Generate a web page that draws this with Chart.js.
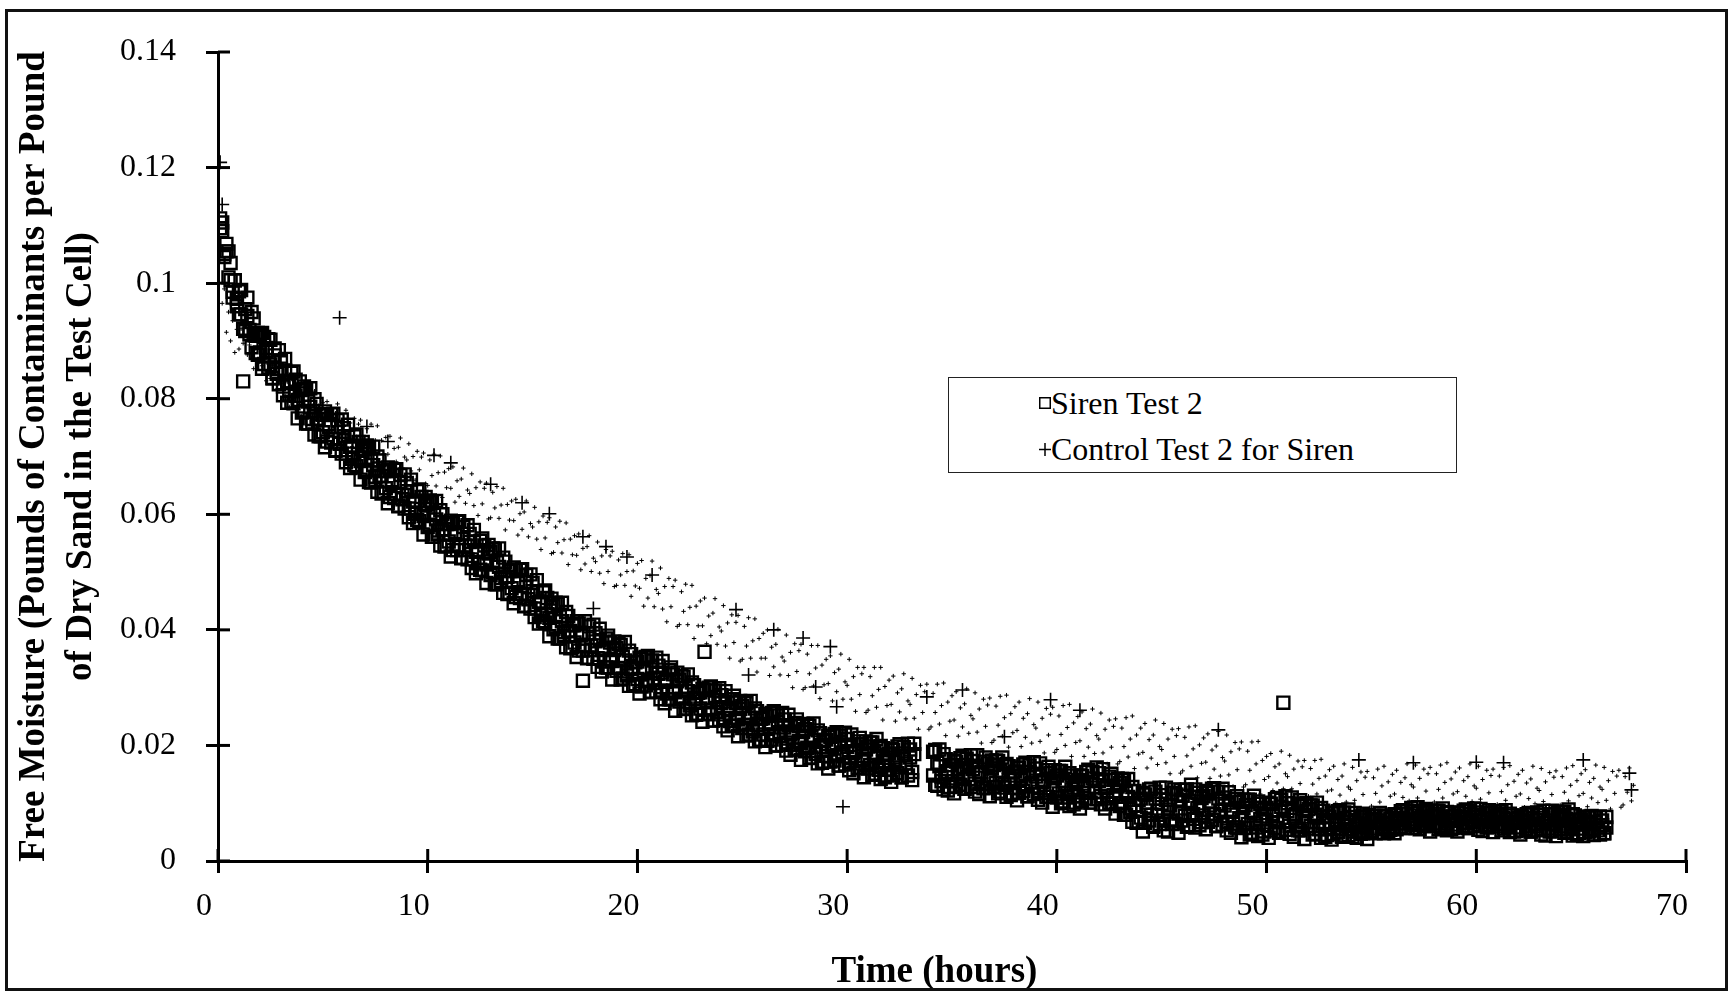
<!DOCTYPE html>
<html>
<head>
<meta charset="utf-8">
<script src="https://cdn.jsdelivr.net/npm/chart.js@4.4.0/dist/chart.umd.min.js"></script>
<style>
html,body{margin:0;padding:0;background:#fff;}
#wrap{position:relative;width:1733px;height:993px;overflow:hidden;background:#fff;}
#c{position:absolute;left:0;top:0;}
#frame{position:absolute;left:5px;top:9px;width:1723px;height:982px;border:3px solid #111;box-sizing:border-box;pointer-events:none;}
#legend{position:absolute;left:948px;top:377px;width:509px;height:96px;border:1.5px solid #222;box-sizing:border-box;background:#fff;font-family:"Liberation Serif","Times New Roman",serif;font-size:32px;color:#000;}
#legend .row{position:absolute;left:90px;height:34px;line-height:34px;display:flex;align-items:center;white-space:nowrap;}
#legend svg{display:block;flex:none;}
</style>
</head>
<body>
<div id="wrap">
<canvas id="c" width="1733" height="993"></canvas>
<div id="frame"></div>
<div id="legend">
  <div class="row" style="top:8px"><svg width="12" height="12" viewBox="0 0 12 12"><rect x="0.75" y="0.75" width="10.5" height="10.5" fill="#fff" stroke="#000" stroke-width="1.5"/></svg><span id="l1"></span></div>
  <div class="row" style="top:54px"><svg width="12" height="13" viewBox="0 0 12 13"><path d="M0 6.5H12M6 0V13" stroke="#000" stroke-width="1.5"/></svg><span id="l2"></span></div>
</div>
</div>
<script>
// ---- data ----
const seriesNames = ['Siren Test 2', 'Control Test 2 for Siren'];
const xTicks = [0, 10, 20, 30, 40, 50, 60, 70];
const yTicks = [0, 0.02, 0.04, 0.06, 0.08, 0.1, 0.12, 0.14];

const hours = [
0.1,0.2,0.3,0.4,0.5,0.6,0.7,0.8,0.9,
1,1.1,1.2,1.3,1.4,1.5,1.6,1.7,1.8,1.9,
2,2.1,2.2,2.3,2.4,2.5,2.6,2.7,2.8,2.9,
3,3.1,3.2,3.3,3.4,3.5,3.6,3.7,3.8,3.9,
4,4.1,4.2,4.3,4.4,4.5,4.6,4.7,4.8,4.9,
5,5.1,5.2,5.3,5.4,5.5,5.6,5.7,5.8,5.9,
6,6.1,6.2,6.3,6.4,6.5,6.6,6.7,6.8,6.9,
7,7.1,7.2,7.3,7.4,7.5,7.6,7.7,7.8,7.9,
8,8.1,8.2,8.3,8.4,8.5,8.6,8.7,8.8,8.9,
9,9.1,9.2,9.3,9.4,9.5,9.6,9.7,9.8,9.9,
10,10.1,10.2,10.3,10.4,10.5,10.6,10.7,10.8,10.9,
11,11.1,11.2,11.3,11.4,11.5,11.6,11.7,11.8,11.9,
12,12.1,12.2,12.3,12.4,12.5,12.6,12.7,12.8,12.9,
13,13.1,13.2,13.3,13.4,13.5,13.6,13.7,13.8,13.9,
14,14.1,14.2,14.3,14.4,14.5,14.6,14.7,14.8,14.9,
15,15.1,15.2,15.3,15.4,15.5,15.6,15.7,15.8,15.9,
16,16.1,16.2,16.3,16.4,16.5,16.6,16.7,16.8,16.9,
17,17.1,17.2,17.3,17.4,17.5,17.6,17.7,17.8,17.9,
18,18.1,18.2,18.3,18.4,18.5,18.6,18.7,18.8,18.9,
19,19.1,19.2,19.3,19.4,19.5,19.6,19.7,19.8,19.9,
20,20.1,20.2,20.3,20.4,20.5,20.6,20.7,20.8,20.9,
21,21.1,21.2,21.3,21.4,21.5,21.6,21.7,21.8,21.9,
22,22.1,22.2,22.3,22.4,22.5,22.6,22.7,22.8,22.9,
23,23.1,23.2,23.3,23.4,23.5,23.6,23.7,23.8,23.9,
24,24.1,24.2,24.3,24.4,24.5,24.6,24.7,24.8,24.9,
25,25.1,25.2,25.3,25.4,25.5,25.6,25.7,25.8,25.9,
26,26.1,26.2,26.3,26.4,26.5,26.6,26.7,26.8,26.9,
27,27.1,27.2,27.3,27.4,27.5,27.6,27.7,27.8,27.9,
28,28.1,28.2,28.3,28.4,28.5,28.6,28.7,28.8,28.9,
29,29.1,29.2,29.3,29.4,29.5,29.6,29.7,29.8,29.9,
30,30.1,30.2,30.3,30.4,30.5,30.6,30.7,30.8,30.9,
31,31.1,31.2,31.3,31.4,31.5,31.6,31.7,31.8,31.9,
32,32.1,32.2,32.3,32.4,32.5,32.6,32.7,32.8,32.9,
33,33.1,33.2,33.3,33.4,33.5,33.6,33.7,33.8,33.9,
34,34.1,34.2,34.3,34.4,34.5,34.6,34.7,34.8,34.9,
35,35.1,35.2,35.3,35.4,35.5,35.6,35.7,35.8,35.9,
36,36.1,36.2,36.3,36.4,36.5,36.6,36.7,36.8,36.9,
37,37.1,37.2,37.3,37.4,37.5,37.6,37.7,37.8,37.9,
38,38.1,38.2,38.3,38.4,38.5,38.6,38.7,38.8,38.9,
39,39.1,39.2,39.3,39.4,39.5,39.6,39.7,39.8,39.9,
40,40.1,40.2,40.3,40.4,40.5,40.6,40.7,40.8,40.9,
41,41.1,41.2,41.3,41.4,41.5,41.6,41.7,41.8,41.9,
42,42.1,42.2,42.3,42.4,42.5,42.6,42.7,42.8,42.9,
43,43.1,43.2,43.3,43.4,43.5,43.6,43.7,43.8,43.9,
44,44.1,44.2,44.3,44.4,44.5,44.6,44.7,44.8,44.9,
45,45.1,45.2,45.3,45.4,45.5,45.6,45.7,45.8,45.9,
46,46.1,46.2,46.3,46.4,46.5,46.6,46.7,46.8,46.9,
47,47.1,47.2,47.3,47.4,47.5,47.6,47.7,47.8,47.9,
48,48.1,48.2,48.3,48.4,48.5,48.6,48.7,48.8,48.9,
49,49.1,49.2,49.3,49.4,49.5,49.6,49.7,49.8,49.9,
50,50.1,50.2,50.3,50.4,50.5,50.6,50.7,50.8,50.9,
51,51.1,51.2,51.3,51.4,51.5,51.6,51.7,51.8,51.9,
52,52.1,52.2,52.3,52.4,52.5,52.6,52.7,52.8,52.9,
53,53.1,53.2,53.3,53.4,53.5,53.6,53.7,53.8,53.9,
54,54.1,54.2,54.3,54.4,54.5,54.6,54.7,54.8,54.9,
55,55.1,55.2,55.3,55.4,55.5,55.6,55.7,55.8,55.9,
56,56.1,56.2,56.3,56.4,56.5,56.6,56.7,56.8,56.9,
57,57.1,57.2,57.3,57.4,57.5,57.6,57.7,57.8,57.9,
58,58.1,58.2,58.3,58.4,58.5,58.6,58.7,58.8,58.9,
59,59.1,59.2,59.3,59.4,59.5,59.6,59.7,59.8,59.9,
60,60.1,60.2,60.3,60.4,60.5,60.6,60.7,60.8,60.9,
61,61.1,61.2,61.3,61.4,61.5,61.6,61.7,61.8,61.9,
62,62.1,62.2,62.3,62.4,62.5,62.6,62.7,62.8,62.9,
63,63.1,63.2,63.3,63.4,63.5,63.6,63.7,63.8,63.9,
64,64.1,64.2,64.3,64.4,64.5,64.6,64.7,64.8,64.9,
65,65.1,65.2,65.3,65.4,65.5,65.6,65.7,65.8,65.9,
66,66.1,66.2,66.3,66.4,66.5,66.6,66.7,66.8,66.9,
67,67.1,67.2,67.3,67.4,67.5
];

// Siren readings, first pass through the band
const sirenValues = [
.1112,.1090,.1050,.1068,.1010,.1035,.0985,.1005,.0960,
.0986,.0946,.0830,.0917,.0943,.0912,.0950,.0913,.0879,.0914,
.0880,.0914,.0860,.0888,.0903,.0859,.0835,.0875,.0851,.0825,
.0852,.0806,.0849,.0830,.0807,.0845,.0792,.0833,.0798,.0830,
.0816,.0779,.0817,.0757,.0786,.0758,.0799,.0765,.0735,.0773,
.0742,.0778,.0726,.0756,.0773,.0731,.0710,.0751,.0730,.0705,
.0735,.0690,.0735,.0717,.0696,.0735,.0683,.0725,.0692,.0725,
.0713,.0677,.0716,.0655,.0685,.0658,.0700,.0667,.0636,.0675,
.0645,.0681,.0630,.0659,.0677,.0635,.0614,.0656,.0634,.0610,
.0640,.0595,.0640,.0622,.0601,.0640,.0588,.0630,.0597,.0630,
.0618,.0582,.0621,.0561,.0591,.0565,.0607,.0574,.0544,.0583,
.0553,.0589,.0538,.0569,.0587,.0545,.0524,.0566,.0546,.0522,
.0552,.0507,.0553,.0535,.0515,.0554,.0503,.0546,.0513,.0547,
.0535,.0499,.0539,.0479,.0509,.0483,.0525,.0492,.0462,.0502,
.0472,.0508,.0457,.0486,.0504,.0462,.0441,.0483,.0461,.0437,
.0467,.0422,.0466,.0448,.0426,.0465,.0413,.0455,.0421,.0454,
.0441,.0405,.0445,.0385,.0415,.0389,.0431,.0398,.0368,.0408,
.0378,.0415,.0364,.0395,.0312,.0372,.0351,.0394,.0373,.0350,
.0380,.0336,.0382,.0365,.0345,.0385,.0335,.0378,.0346,.0380,
.0369,.0334,.0374,.0316,.0347,.0321,.0364,.0332,.0304,.0344,
.0315,.0352,.0302,.0334,.0353,.0312,.0292,.0335,.0316,.0293,
.0324,.0280,.0326,.0310,.0290,.0330,.0280,.0323,.0292,.0326,
.0314,.0281,.0319,.0264,.0294,.0269,.0309,.0280,.0253,.0291,
.0264,.0298,.0362,.0281,.0300,.0262,.0243,.0284,.0265,.0244,
.0273,.0233,.0276,.0261,.0242,.0280,.0234,.0274,.0245,.0277,
.0268,.0236,.0273,.0219,.0248,.0224,.0264,.0235,.0208,.0246,
.0219,.0254,.0208,.0237,.0256,.0219,.0200,.0241,.0223,.0201,
.0231,.0191,.0235,.0219,.0201,.0239,.0193,.0234,.0204,.0237,
.0228,.0196,.0234,.0179,.0209,.0185,.0226,.0197,.0170,.0208,
.0182,.0217,.0172,.0201,.0220,.0183,.0165,.0206,.0188,.0167,
.0197,.0157,.0201,.0187,.0169,.0207,.0161,.0202,.0174,.0207,
.0198,.0166,.0205,.0151,.0182,.0158,.0199,.0171,.0145,.0184,
.0158,.0194,.0149,.0179,.0198,.0162,.0145,.0186,.0169,.0148,
.0179,.0140,.0185,null,null,null,null,null,null,null,
null,.0148,.0192,.0130,.0164,.0138,.0185,.0152,.0122,.0166,
.0138,.0174,.0129,.0159,.0178,.0142,.0125,.0166,.0149,.0128,
.0159,.0120,.0165,.0150,.0133,.0172,.0127,.0169,.0140,.0174,
.0166,.0135,.0173,.0120,.0150,.0127,.0168,.0140,.0114,.0153,
.0127,.0162,.0118,.0147,.0167,.0130,.0112,.0154,.0136,.0116,
.0146,.0106,.0151,.0136,.0118,.0157,.0111,.0152,.0123,.0157,
.0148,.0117,.0156,.0103,.0133,.0110,.0152,.0124,.0098,.0137,
.0112,.0148,.0104,.0134,.0154,.0118,.0101,.0143,.0127,.0107,
.0138,.0098,.0141,.0126,.0108,.0146,.0099,.0140,.0111,.0143,
.0135,.0100,.0140,.0080,.0111,.0085,.0128,.0096,.0066,.0106,
.0075,.0118,.0066,.0101,.0124,.0080,.0059,.0108,.0087,.0064,
.0099,.0053,.0106,.0089,.0070,.0118,.0065,.0115,.0082,.0123,
.0113,.0078,.0124,.0062,.0099,.0073,.0124,.0092,.0062,.0109,
.0079,.0121,.0068,.0103,.0125,.0081,.0060,.0108,.0087,.0063,
.0096,.0053,.0101,.0085,.0065,.0107,.0058,.0102,.0071,.0106,
.0097,.0064,.0106,.0049,.0082,.0058,.0103,.0073,.0046,.0089,
.0062,.0101,.0053,.0086,.0107,.0067,.0049,.0094,.0274,.0054,
.0086,.0047,.0092,.0077,.0060,.0099,.0053,.0095,.0067,.0100,
.0090,.0061,.0096,.0047,.0075,.0055,.0092,.0066,.0042,.0077,
.0055,.0084,.0047,.0071,.0086,.0056,.0043,.0074,.0061,.0045,
.0067,.0042,.0071,.0062,.0051,.0077,.0048,.0075,.0058,.0080,
.0073,.0056,.0078,.0049,.0066,.0055,.0079,.0063,.0051,.0073,
.0059,.0081,.0055,.0074,.0086,.0065,.0057,.0082,.0072,.0062,
.0079,.0057,.0083,.0074,.0064,.0086,.0061,.0084,.0068,.0087,
.0082,.0065,.0087,.0057,.0074,.0061,.0085,.0069,.0055,.0077,
.0063,.0084,.0058,.0076,.0087,.0066,.0057,.0081,.0071,.0060,
.0076,.0054,.0080,.0072,.0062,.0084,.0059,.0083,.0067,.0086,
.0081,.0064,.0086,.0056,.0072,.0059,.0082,.0066,.0051,.0072,
.0058,.0079,.0053,.0070,.0081,.0060,.0051,.0074,.0064,.0053,
.0071,.0046,.0075,.0066,.0056,.0081,.0052,.0081,.0063,.0085,
.0080,.0060,.0085,.0051,.0070,.0055,.0081,.0063,.0047,.0071,
.0056,.0076,.0050,.0067,.0077,.0055,.0045,.0068,.0058,.0046,
.0062,.0048,.0058
];

// Siren readings, second pass through the same band (same hours)
const sirenValues2 = [
.1095,.1105,.1045,.1055,.1055,.1005,.0975,.1005,.0973,
.0946,.0988,.0921,.0955,.0975,.0919,.0889,.0939,.0909,.0876,
.0910,.0852,.0907,.0883,.0854,.0902,.0836,.0887,.0843,.0884,
.0866,.0821,.0869,.0793,.0830,.0795,.0847,.0805,.0766,.0815,
.0776,.0821,.0757,.0795,.0818,.0765,.0738,.0791,.0765,.0735,
.0772,.0716,.0773,.0751,.0724,.0774,.0711,.0763,.0722,.0764,
.0749,.0705,.0755,.0680,.0719,.0685,.0738,.0697,.0660,.0710,
.0673,.0719,.0656,.0693,.0717,.0665,.0639,.0693,.0666,.0637,
.0675,.0619,.0677,.0654,.0628,.0678,.0615,.0668,.0626,.0669,
.0654,.0610,.0660,.0585,.0624,.0590,.0643,.0602,.0565,.0615,
.0578,.0624,.0561,.0599,.0623,.0572,.0546,.0600,.0574,.0545,
.0583,.0527,.0585,.0564,.0538,.0588,.0525,.0578,.0538,.0581,
.0566,.0522,.0573,.0498,.0538,.0504,.0558,.0518,.0481,.0532,
.0495,.0541,.0479,.0517,.0541,.0490,.0464,.0518,.0492,.0464,
.0502,.0446,.0504,.0481,.0455,.0505,.0442,.0495,.0453,.0496,
.0481,.0437,.0486,.0411,.0449,.0415,.0468,.0427,.0389,.0439,
.0401,.0447,.0385,.0423,.0447,.0396,.0370,.0424,.0398,.0370,
.0408,.0353,.0411,.0390,.0364,.0415,.0352,.0406,.0365,.0409,
.0394,.0351,.0402,.0328,.0368,.0335,.0390,.0350,.0314,.0365,
.0329,.0376,.0314,.0354,.0379,.0328,.0303,.0358,.0334,.0306,
.0345,.0290,.0349,.0329,.0304,.0355,.0293,.0347,.0308,.0352,
.0338,.0295,.0346,.0273,.0313,.0280,.0335,.0295,.0260,.0311,
.0276,.0320,.0263,.0300,.0323,.0275,.0252,.0304,.0281,.0255,
.0292,.0241,.0296,.0277,.0254,.0302,.0243,.0295,.0258,.0299,
.0287,.0247,.0294,.0226,.0263,.0234,.0286,.0248,.0216,.0263,
.0230,.0275,.0217,.0255,.0277,.0230,.0207,.0259,.0236,.0210,
.0247,.0197,.0251,.0233,.0210,.0259,.0200,.0252,.0216,.0256,
.0245,.0205,.0253,.0184,.0222,.0193,.0245,.0208,.0175,.0223,
.0190,.0235,.0178,.0215,.0238,.0191,.0169,.0221,.0198,.0172,
.0210,.0160,.0215,.0197,.0174,.0223,.0165,.0217,.0181,.0222,
.0211,.0171,.0219,.0152,.0190,.0161,.0213,.0176,.0145,.0193,
.0160,.0205,.0149,.0187,.0211,.0164,.0142,.0195,.0173,.0148,
.0186,.0137,.0192,.0175,.0152,.0202,.0145,.0197,.0162,.0203,
.0193,.0154,.0203,null,null,null,null,null,null,null,
null,.0189,.0132,.0170,.0193,.0146,.0124,.0176,.0154,.0128,
.0166,.0117,.0172,.0155,.0132,.0182,.0125,.0177,.0142,.0183,
.0173,.0134,.0183,.0116,.0154,.0126,.0179,.0143,.0112,.0160,
.0128,.0174,.0117,.0156,.0179,.0133,.0111,.0164,.0142,.0117,
.0155,.0105,.0161,.0143,.0121,.0170,.0112,.0165,.0129,.0171,
.0160,.0120,.0169,.0101,.0139,.0111,.0163,.0126,.0094,.0143,
.0110,.0156,.0100,.0139,.0163,.0117,.0095,.0148,.0127,.0101,
.0140,.0091,.0147,.0130,.0108,.0158,.0101,.0154,.0120,.0162,
.0152,.0112,.0159,.0091,.0129,.0100,.0151,.0114,.0082,.0129,
.0095,.0142,.0080,.0118,.0142,.0092,.0068,.0121,.0096,.0068,
.0108,.0051,.0115,.0094,.0070,.0125,.0061,.0120,.0080,.0127,
.0114,.0070,.0127,.0051,.0096,.0064,.0124,.0085,.0049,.0106,
.0070,.0123,.0059,.0104,.0132,.0081,.0058,.0118,.0095,.0067,
.0112,.0055,.0118,.0096,.0071,.0126,.0061,.0120,.0078,.0125,
.0110,.0068,.0119,.0049,.0088,.0058,.0112,.0074,.0041,.0092,
.0057,.0106,.0046,.0087,.0113,.0065,.0043,.0099,.0077,.0051,
.0092,.0040,.0099,.0081,.0057,.0109,.0050,.0106,.0069,.0112,
.0100,.0061,.0110,.0042,.0081,.0053,.0105,.0069,.0038,.0086,
.0056,.0096,.0046,.0079,.0101,.0060,.0040,.0087,.0067,.0045,
.0077,.0037,.0082,.0067,.0050,.0088,.0042,.0084,.0055,.0089,
.0076,.0051,.0083,.0040,.0065,.0047,.0082,.0059,.0038,.0071,
.0052,.0078,.0048,.0070,.0083,.0059,.0048,.0077,.0066,.0054,
.0075,.0048,.0080,.0071,.0059,.0088,.0057,.0087,.0068,.0092,
.0087,.0065,.0093,.0055,.0076,.0060,.0090,.0070,.0051,.0079,
.0061,.0087,.0055,.0077,.0091,.0065,.0053,.0083,.0071,.0057,
.0079,.0051,.0083,.0073,.0061,.0089,.0057,.0087,.0067,.0091,
.0084,.0062,.0090,.0052,.0074,.0058,.0088,.0068,.0050,.0078,
.0060,.0086,.0053,.0075,.0088,.0062,.0050,.0079,.0067,.0052,
.0074,.0046,.0077,.0067,.0055,.0083,.0051,.0081,.0060,.0084,
.0080,.0055,.0087,.0044,.0070,.0051,.0087,.0064,.0043,.0076,
.0055,.0085,.0049,.0073,.0089,.0059,.0044,.0079,.0064,.0048,
.0072,.0043,.0075,.0064,.0051,.0078,.0046,.0075,.0053,.0077,
.0070,.0048,.0076
];

const controlValues = [
.1040,.0965,.0990,.0915,.0950,.0900,.0935,.0880,.0920,
.0886,.0921,.0896,.0925,.0876,.0893,.0916,.0852,.0887,.0862,
.0888,.0857,.0886,.0831,.0860,.0835,.0858,.0872,.0817,.0834,
.0827,.0854,.0805,.0829,.0786,.0834,.0800,.0821,.0826,.0772,
.0771,.0808,.0785,.0816,.0769,.0788,.0813,.0751,.0788,.0765,
.0793,.0764,.0795,.0742,.0773,.0750,.0775,.0791,.0738,.0757,
.0752,.0780,.0733,.0758,.0717,.0766,.0734,.0756,.0763,.0710,
.0711,.0748,.0725,.0756,.0709,.0728,.0753,.0691,.0728,.0705,
.0733,.0704,.0735,.0683,.0714,.0691,.0716,.0732,.0680,.0699,
.0694,.0722,.0675,.0700,.0659,.0709,.0677,.0699,.0706,.0653,
.0650,.0694,.0667,.0704,.0649,.0672,.0701,.0629,.0673,.0646,
.0679,.0645,.0682,.0621,.0658,.0631,.0661,.0680,.0619,.0642,
.0636,.0670,.0615,.0646,.0598,.0656,.0618,.0645,.0654,.0592,
.0594,.0638,.0611,.0648,.0593,.0616,.0645,.0573,.0617,.0590,
.0623,.0589,.0626,.0564,.0601,.0574,.0604,.0623,.0561,.0584,
.0578,.0612,.0557,.0587,.0539,.0597,.0559,.0586,.0594,.0532,
.0534,.0578,.0551,.0588,.0533,.0556,.0585,.0513,.0557,.0530,
.0563,.0529,.0566,.0504,.0541,.0514,.0544,.0563,.0501,.0524,
.0518,.0552,.0498,.0528,.0480,.0539,.0501,.0528,.0536,.0475,
.0477,.0521,.0495,.0532,.0477,.0501,.0530,.0458,.0502,.0476,
.0515,.0472,.0520,.0441,.0489,.0455,.0494,.0519,.0440,.0470,
.0463,.0507,.0436,.0475,.0414,.0489,.0440,.0475,.0486,.0406,
.0409,.0466,.0432,.0479,.0409,.0439,.0477,.0385,.0441,.0407,
.0450,.0407,.0455,.0376,.0424,.0390,.0429,.0454,.0375,.0405,
.0398,.0442,.0372,.0412,.0351,.0426,.0378,.0413,.0425,.0346,
.0349,.0406,.0372,.0421,.0351,.0381,.0419,.0327,.0385,.0351,
.0394,.0351,.0400,.0321,.0370,.0336,.0375,.0401,.0322,.0353,
.0346,.0391,.0321,.0361,.0300,.0376,.0328,.0364,.0375,.0297,
.0300,.0358,.0324,.0373,.0303,.0334,.0373,.0281,.0339,.0305,
.0349,.0307,.0355,.0277,.0326,.0293,.0332,.0358,.0280,.0310,
.0304,.0349,.0280,.0319,.0259,.0335,.0288,.0324,.0335,.0257,
.0261,.0319,.0286,.0335,.0266,.0297,.0335,.0244,.0302,.0269,
.0313,.0271,.0320,.0242,.0291,.0258,.0298,.0324,.0246,.0277,
.0271,.0316,.0247,.0288,.0228,.0304,.0257,.0293,.0306,.0228,
.0232,.0290,.0257,.0306,.0237,.0269,.0308,.0217,.0275,.0242,
.0286,.0244,.0293,.0216,.0265,.0232,.0272,.0298,.0221,.0252,
.0246,.0291,.0223,.0263,.0204,.0280,.0233,.0270,.0282,.0205,
.0209,.0268,.0235,.0285,.0216,.0248,.0287,.0197,.0255,.0222,
.0267,.0226,.0275,.0198,.0247,.0214,.0255,.0281,.0204,.0236,
.0230,.0275,.0207,.0247,.0187,.0264,.0218,.0254,.0266,.0188,
.0193,.0251,.0219,.0269,.0200,.0231,.0271,.0181,.0239,.0205,
.0250,.0208,.0258,.0181,.0229,.0197,.0237,.0263,.0186,.0217,
.0211,.0256,.0187,.0228,.0168,.0244,.0197,.0233,.0246,.0168,
.0172,.0230,.0198,.0248,.0180,.0211,.0251,.0160,.0218,.0185,
.0230,.0188,.0238,.0161,.0210,.0178,.0218,.0244,.0167,.0198,
.0193,.0238,.0170,.0211,.0151,.0228,.0181,.0217,.0229,.0152,
.0156,.0214,.0182,.0232,.0164,.0194,.0234,.0144,.0201,.0169,
.0213,.0171,.0220,.0143,.0192,.0159,.0199,.0224,.0147,.0179,
.0173,.0218,.0149,.0189,.0129,.0205,.0158,.0194,.0206,.0128,
.0132,.0190,.0157,.0206,.0137,.0168,.0207,.0116,.0174,.0141,
.0181,.0146,.0186,.0122,.0163,.0135,.0168,.0190,.0125,.0151,
.0146,.0183,.0125,.0159,.0109,.0173,.0134,.0163,.0174,.0109,
.0112,.0160,.0133,.0174,.0116,.0143,.0176,.0099,.0147,.0121,
.0158,.0123,.0164,.0100,.0141,.0114,.0147,.0168,.0102,.0128,
.0124,.0162,.0105,.0139,.0089,.0154,.0115,.0145,.0155,.0091,
.0095,.0144,.0117,.0159,.0102,.0130,.0164,.0088,.0137,.0112,
.0150,.0116,.0157,.0094,.0136,.0110,.0144,.0168,.0104,.0132,
.0128,.0166,.0109,.0143,.0094,.0159,.0121,.0151,.0162,.0098,
.0102,.0151,.0124,.0166,.0109,.0136,.0170,.0093,.0142,.0116,
.0154,.0120,.0161,.0097,.0139,.0112,.0146,.0168,.0103,.0130,
.0126,.0164,.0107,.0141,.0092,.0157,.0118,.0148,.0159,.0094,
.0098,.0147,.0120,.0162,.0105,.0132,.0165,.0089,.0138,.0112,
.0150,.0116,.0157,.0093,.0135,.0108,.0142,.0164,.0099,.0126,
.0122,.0160,.0103,.0137,.0088,.0153,.0115,.0145,.0156,.0093,
.0097,.0146,.0119,.0161,.0104,.0131,.0165,.0090,.0139,.0113,
.0151,.0117,.0158,.0094,.0136,.0109,.0143,.0166,.0101,.0128,
.0124,.0162,.0105,.0139,.0090,.0155,.0117,.0147,.0157,.0093,
.0097,.0146,.0119,.0161,.0104,.0131
];

// control readings whose "+" marker survives clearly in the picture
const controlPlusHours = [0.1,0.2,5.8,7.1,8.1,10.3,11.1,13.0,14.5,15.8,17.4,17.9,18.5,19.5,20.7,24.7,25.3,26.5,27.9,28.5,29.2,29.5,29.8,33.8,35.5,37.5,39.7,41.1,47.7,54.4,57.0,60.0,61.3,65.1,67.3,67.4];
const controlPlusValues = [.1209,.1136,.0940,.0752,.0726,.0702,.0689,.0652,.0620,.0601,.0561,.0437,.0544,.0526,.0495,.0435,.0322,.0400,.0386,.0301,.0371,.0267,.0094,.0284,.0296,.0215,.0279,.0261,.0227,.0175,.0170,.0171,.0170,.0175,.0152,.0123];

// ---- chart ----
const FONT = "'Liberation Serif','Times New Roman',serif";
Chart.defaults.font.family = FONT;
Chart.defaults.color = '#000';

const sirenData = sirenValues.map((v, i) => ({x: hours[i], y: v}))
  .concat(sirenValues2.map((v, i) => ({x: hours[i], y: v})));
const controlData = controlValues.map((v, i) => ({x: hours[i], y: v}))
  .concat(controlPlusHours.map((h, i) => ({x: h, y: controlPlusValues[i]})));
const nDense = controlValues.length;

const crossTicks = {
  id: 'crossTicks',
  afterDatasetsDraw(chart) {
    const {ctx, chartArea} = chart;
    const xs = chart.scales.x, ys = chart.scales.y;
    ctx.save();
    ctx.strokeStyle = '#000';
    ctx.lineWidth = 3;
    xs.ticks.forEach((t, i) => {
      const px = xs.getPixelForTick(i);
      ctx.beginPath(); ctx.moveTo(px, chartArea.bottom); ctx.lineTo(px, chartArea.bottom - 12); ctx.stroke();
    });
    ys.ticks.forEach((t, i) => {
      const py = ys.getPixelForTick(i);
      ctx.beginPath(); ctx.moveTo(chartArea.left, py); ctx.lineTo(chartArea.left + 12, py); ctx.stroke();
    });
    ctx.restore();
  }
};

const chart = new Chart(document.getElementById('c'), {
  type: 'scatter',
  data: {
    datasets: [
      {
        label: seriesNames[0],
        data: sirenData,
        pointStyle: 'rect',
        pointRadius: 8.5,
        pointBorderWidth: 2.4,
        pointBorderColor: '#000',
        pointBackgroundColor: 'rgba(255,255,255,0)',
        showLine: false
      },
      {
        label: seriesNames[1],
        data: controlData,
        pointStyle: 'cross',
        pointRadius: c => c.dataIndex >= nDense ? 7 : 2.2,
        pointBorderWidth: c => c.dataIndex >= nDense ? 1.6 : 1,
        pointBorderColor: '#000',
        showLine: false
      }
    ]
  },
  options: {
    responsive: false,
    animation: false,
    devicePixelRatio: 1,
    layout: {padding: {left: 10, top: 52, right: 47, bottom: 4}},
    plugins: {legend: {display: false}, tooltip: {enabled: false}},
    scales: {
      x: {
        type: 'linear', min: 0, max: 70,
        afterBuildTicks: s => { s.ticks = xTicks.map(v => ({value: v})); },
        afterFit: s => { s.height = 128; },
        ticks: {font: {family: FONT, size: 32}, color: '#000', padding: 14, labelOffset: -14, maxRotation: 0},
        grid: {drawOnChartArea: false, drawTicks: true, tickLength: 12, color: '#000', lineWidth: 3},
        border: {display: true, color: '#000', width: 3},
        title: {display: true, text: 'Time (hours)\u00a0\u00a0\u00a0\u2009', font: {family: FONT, size: 37, weight: 'bold'}, color: '#000', padding: {top: 0, bottom: -6}}
      },
      y: {
        type: 'linear', min: 0, max: 0.14,
        afterBuildTicks: s => { s.ticks = yTicks.map(v => ({value: v})); },
        afterFit: s => { s.width = 208; },
        ticks: {font: {family: FONT, size: 32}, color: '#000', padding: 30, callback: v => String(+v.toFixed(2))},
        grid: {drawOnChartArea: false, drawTicks: true, tickLength: 12, color: '#000', lineWidth: 3},
        border: {display: true, color: '#000', width: 3},
        title: {display: true, text: ['Free Moisture (Pounds of Contaminants per Pound', 'of Dry Sand in the Test Cell)'], font: {family: FONT, size: 37, weight: 'bold', lineHeight: 1.27}, color: '#000', padding: {top: 1, bottom: 0}}
      }
    }
  },
  plugins: [crossTicks]
});

document.getElementById('l1').textContent = chart.data.datasets[0].label;
document.getElementById('l2').textContent = chart.data.datasets[1].label;
</script>
</body>
</html>
